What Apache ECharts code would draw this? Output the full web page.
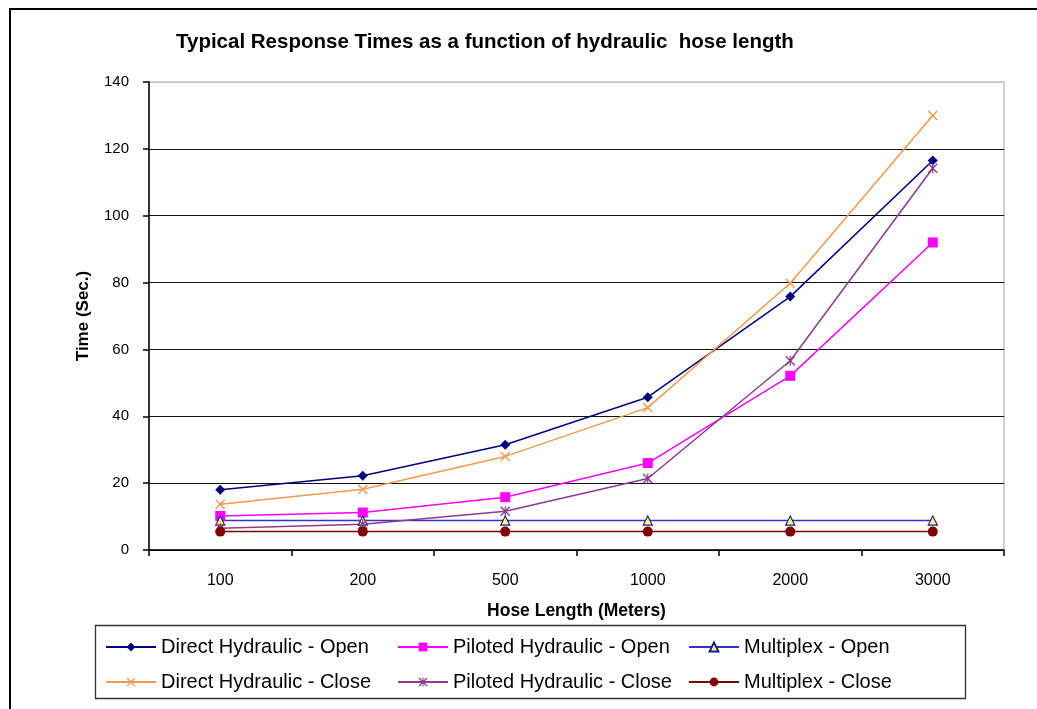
<!DOCTYPE html>
<html>
<head>
<meta charset="utf-8">
<script src="https://cdn.jsdelivr.net/npm/echarts@6/dist/echarts.min.js"></script>
<style>
  html, body { margin: 0; padding: 0; background: #fff; }
  #chart { width: 1037px; height: 709px; }
</style>
</head>
<body>
<div id="chart"></div>
<script>
const categories = ['100', '200', '500', '1000', '2000', '3000'];
const directOpen   = [18, 22.2, 31.5, 45.7, 75.8, 116.5];
const directClose  = [13.7, 18.2, 28, 42.6, 79.8, 130];
const pilotedOpen  = [10.2, 11.2, 15.8, 26, 52.1, 92];
const pilotedClose = [6.5, 7.7, 11.6, 21.4, 56.6, 114.2];
const multiplexOpen  = [8.8, 8.8, 8.8, 8.8, 8.8, 8.8];
const multiplexClose = [5.5, 5.5, 5.5, 5.5, 5.5, 5.5];
const yTicks = { min: 0, max: 140, interval: 20 };

const FONT = "'Liberation Sans', Arial, sans-serif";
const X_SYMBOL = 'path://M0,1 L1,0 L5,4 L9,0 L10,1 L6,5 L10,9 L9,10 L5,6 L1,10 L0,9 L4,5 Z';
const STAR_SYMBOL = 'path://M0,1 L1,0 L5,4 L9,0 L10,1 L6,5 L10,9 L9,10 L5,6 L1,10 L0,9 L4,5 Z M4.4,0 L5.6,0 L5.6,10 L4.4,10 Z';

function lineSeries(name, data, color, symbol, size, extra) {
  return Object.assign({
    name: name,
    type: 'line',
    data: data,
    symbol: symbol,
    symbolSize: size,
    showAllSymbol: true,
    lineStyle: { color: color, width: 1.5 },
    itemStyle: { color: color },
    emphasis: { disabled: true },
    animation: false
  }, extra || {});
}

const chart = echarts.init(document.getElementById('chart'), null, { renderer: 'canvas' });

const legendText = { fontFamily: FONT, fontSize: 20, color: '#000' };
const legendCommon = {
  orient: 'vertical',
  top: 637,
  itemGap: 15,
  itemWidth: 50,
  itemHeight: 11,
  padding: 0,
  selectedMode: false,
  textStyle: legendText
};

chart.setOption({
  backgroundColor: '#fff',
  animation: false,
  title: {
    text: 'Typical Response Times as a function of hydraulic  hose length',
    left: 176,
    top: 32,
    padding: 0,
    textStyle: { fontFamily: FONT, fontSize: 20.5, fontWeight: 'bold', color: '#000' }
  },
  grid: {
    left: 149, top: 82, right: 33, bottom: 159,
    show: true, borderColor: '#c4c4c4', borderWidth: 1.5, backgroundColor: '#fff'
  },
  legend: [
    Object.assign({ left: 105, data: ['Direct Hydraulic - Open', 'Direct Hydraulic - Close'] }, legendCommon),
    Object.assign({ left: 397, data: ['Piloted Hydraulic - Open', 'Piloted Hydraulic - Close'] }, legendCommon),
    Object.assign({ left: 688, data: ['Multiplex - Open', 'Multiplex - Close'] }, legendCommon)
  ],
  xAxis: {
    type: 'category',
    data: categories,
    boundaryGap: true,
    name: 'Hose Length (Meters)',
    nameLocation: 'middle',
    nameGap: 52,
    nameTextStyle: { fontFamily: FONT, fontSize: 17.5, fontWeight: 'bold', color: '#000' },
    axisLine: { show: true, lineStyle: { color: '#000', width: 1.5 } },
    axisTick: { show: true, inside: false, length: 6, interval: 0, alignWithLabel: false, lineStyle: { color: '#000', width: 1.5 } },
    axisLabel: { fontFamily: FONT, fontSize: 16, color: '#000', margin: 23, interval: 0 },
    splitLine: { show: false }
  },
  yAxis: {
    type: 'value',
    min: yTicks.min, max: yTicks.max, interval: yTicks.interval,
    name: 'Time (Sec.)',
    nameLocation: 'middle',
    nameGap: 57,
    nameTextStyle: { fontFamily: FONT, fontSize: 17, fontWeight: 'bold', color: '#000' },
    axisLine: { show: true, lineStyle: { color: '#000', width: 1.5 } },
    axisTick: { show: true, inside: false, length: 6, lineStyle: { color: '#000', width: 1.5 } },
    axisLabel: { fontFamily: FONT, fontSize: 15, color: '#000', margin: 20 },
    splitLine: {
      show: true,
      lineStyle: { color: ['#000', '#111', '#111', '#111', '#111', '#111', '#111', '#c4c4c4'], width: 1.2 }
    }
  },
  series: [
    lineSeries('Direct Hydraulic - Open', directOpen, '#000080', 'diamond', 10),
    lineSeries('Piloted Hydraulic - Open', pilotedOpen, '#FF00FF', 'rect', 10),
    lineSeries('Multiplex - Open', multiplexOpen, '#3333CC', 'triangle', 9, {
      itemStyle: { color: '#FFFF66', borderColor: '#1a1a99', borderWidth: 1.2 }
    }),
    lineSeries('Direct Hydraulic - Close', directClose, '#F59A4C', X_SYMBOL, 10),
    lineSeries('Piloted Hydraulic - Close', pilotedClose, '#8E3A8E', STAR_SYMBOL, 10),
    lineSeries('Multiplex - Close', multiplexClose, '#800000', 'circle', 10)
  ],
  graphic: [
    {
      type: 'rect', silent: true, z: 100,
      shape: { x: 10, y: 9, width: 1040, height: 720 },
      style: { fill: 'none', stroke: '#000', lineWidth: 2 }
    },
    {
      type: 'rect', silent: true, z: 100,
      shape: { x: 95.5, y: 625.5, width: 870, height: 73 },
      style: { fill: 'none', stroke: '#333', lineWidth: 1.3 }
    }
  ]
});
</script>
</body>
</html>
